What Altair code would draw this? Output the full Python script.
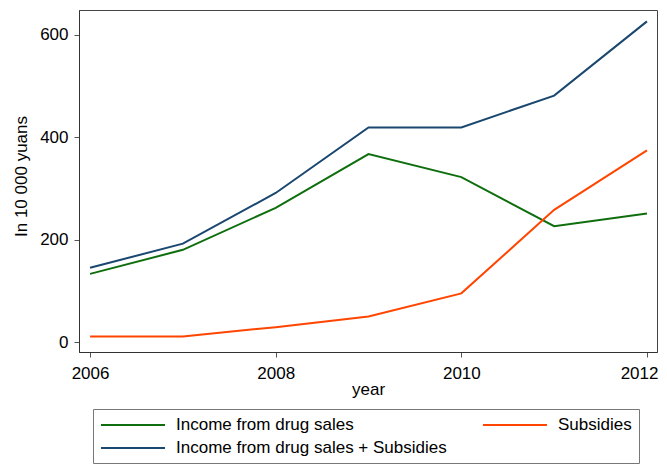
import altair as alt
import pandas as pd

years = [2006, 2007, 2008, 2009, 2010, 2011, 2012]
drug_sales = [133, 180, 262, 367, 322, 226, 251]
subsidies = [11, 11, 29, 50, 95, 258, 374]
total = [145, 192, 291, 419, 419, 481, 626]

series_names = ["Income from drug sales", "Subsidies", "Income from drug sales + Subsidies"]
series_colors = ["#0e6e0e", "#ff4500", "#1a476f"]
# legend fills column by column: this order gives drug sales / subsidies on row 1
legend_order = [series_names[0], series_names[2], series_names[1]]
legend_colors = [series_colors[0], series_colors[2], series_colors[1]]
x_ticks = [2006, 2008, 2010, 2012]
y_ticks = [0, 200, 400, 600]

df = pd.DataFrame({
    "year": years * 3,
    "value": drug_sales + subsidies + total,
    "series": [series_names[0]] * 7 + [series_names[1]] * 7 + [series_names[2]] * 7,
})

FONT = "Liberation Sans"

chart = alt.Chart(df).mark_line(strokeWidth=2).encode(
    x=alt.X(
        "year:Q",
        scale=alt.Scale(domain=[2005.881, 2012.108], nice=False, zero=False),
        axis=alt.Axis(
            values=x_ticks, format="d", title="year", grid=False,
            labelFlush=10.5, labelFlushOffset=11, tickSize=5, labelPadding=8,
            titleY=29,
        ),
    ),
    y=alt.Y(
        "value:Q",
        scale=alt.Scale(domain=[-19.5, 648.2], nice=False, zero=False),
        axis=alt.Axis(
            values=y_ticks, title="In 10 000 yuans", grid=False,
            tickSize=5, labelPadding=6, titleX=-49, titleY=166,
        ),
    ),
    color=alt.Color(
        "series:N",
        scale=alt.Scale(domain=legend_order, range=legend_colors),
        sort=legend_order,
        legend=alt.Legend(
            title=None, orient="none", legendX=14, legendY=399,
            columns=2, columnPadding=32, rowPadding=6, padding=7,
            strokeColor="#777777", fillColor="white",
            symbolType="M-4,0H4", symbolSize=256, symbolStrokeWidth=2,
            symbolOffset=24, labelOffset=34,
            labelFont=FONT, labelFontSize=17, labelColor="black",
            labelLimit=0,
        ),
    ),
).properties(
    width=578,
    height=342,
    autosize=alt.AutoSizeParams(type="none"),
    padding={"left": 71, "top": 2, "right": 2, "bottom": 112},
).configure_view(
    stroke="#444444", strokeWidth=1
).configure_axis(
    labelFont=FONT, labelFontSize=17, labelColor="black",
    titleFont=FONT, titleFontSize=17, titleColor="black", titleFontWeight="normal",
    domainColor="#333333", tickColor="#555555",
)

chart.save("out.html", embed_options={"renderer": "svg", "actions": False})
